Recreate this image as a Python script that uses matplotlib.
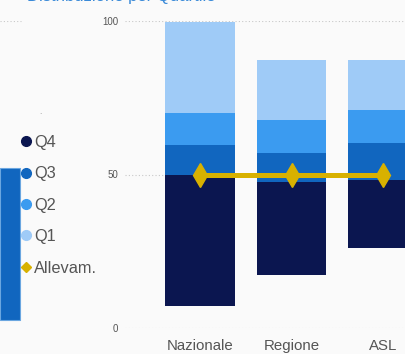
import matplotlib
matplotlib.use("Agg")
import matplotlib.pyplot as plt
from matplotlib.lines import Line2D
from matplotlib import font_manager

# ---------------- data ----------------
categories = ["Nazionale", "Regione", "ASL"]
base = [7.2, 17.2, 25.9]          # invisible start of each floating stack
q4 = [42.7, 30.3, 22.2]
q3 = [9.8, 9.6, 12.2]
q2 = [10.4, 10.8, 10.8]
q1 = [29.6, 19.3, 16.1]
allevam = [50, 50, 50]
yticks = [0, 50, 100]
legend_labels = ["Q4", "Q3", "Q2", "Q1", "Allevam."]
left_bar_bottom = [2.6]
left_bar_height = [49.5]

# ---------------- style ----------------
names = {f.name for f in font_manager.fontManager.ttflist}
narrow = "Liberation Sans Narrow" if "Liberation Sans Narrow" in names else "Liberation Sans"
plt.rcParams["font.family"] = [narrow, "DejaVu Sans"]

c_q4, c_q3, c_q2, c_q1 = "#0b1650", "#1166bf", "#3b9bf0", "#9fcbf7"
c_all = "#d8b100"
bg = "#fafafa"
txt = "#555555"

W, H = 405, 354
fig = plt.figure(figsize=(W / 100, H / 100), dpi=100, facecolor=bg)

def px_axes(x0, y0, x1, y1):
    return fig.add_axes([x0 / W, 1 - y1 / H, (x1 - x0) / W, (y1 - y0) / H])

# ---------------- main chart ----------------
ax = px_axes(125, 21, 405, 328)
ax.set_facecolor("none")
ax.set_ylim(0, 100)
ax.set_xlim(-0.82, 2.24)
x = list(range(len(categories)))
w = 0.755
bottom = list(base)
for vals, col in [(q4, c_q4), (q3, c_q3), (q2, c_q2), (q1, c_q1)]:
    ax.bar(x, vals, width=w, bottom=bottom, color=col, zorder=2)
    bottom = [b + v for b, v in zip(bottom, vals)]
ax.plot(x, allevam, color=c_all, lw=3.6, marker="d", ms=12,
        mec=c_all, mfc=c_all, zorder=4, solid_capstyle="butt")

ax.set_yticks(yticks)
ax.set_yticklabels([str(t) for t in yticks], fontsize=7, color=txt)
ax.set_xticks(x)
ax.set_xticklabels(categories, fontsize=10.8, color=txt)
ax.tick_params(axis="y", length=0, pad=5)
ax.tick_params(axis="x", length=0, pad=8)
ax.grid(axis="y", linestyle=(0, (1, 2)), color="#c8c8c8", lw=0.8, zorder=0)
ax.grid(axis="x", visible=False)
for s in ax.spines.values():
    s.set_visible(False)

# ---------------- partial chart on the left ----------------
axl = px_axes(0, 21, 30, 328)
axl.set_facecolor("none")
axl.set_ylim(0, 100)
axl.set_xlim(0, 1.5)
axl.bar([0], left_bar_height, bottom=left_bar_bottom, width=1.0, align="edge",
        color="#1166bf", edgecolor="#6aa6e0", lw=0.8)
axl.axhline(100, xmax=0.7, linestyle=(0, (1, 2)), color="#c8c8c8", lw=0.8)
axl.axis("off")

# ---------------- legend ----------------
handles = [Line2D([], [], ls="", marker="o", ms=7, color=c) for c in (c_q4, c_q3, c_q2, c_q1)]
handles.append(Line2D([], [], ls="", marker="D", ms=5.5, color=c_all))
leg = fig.legend(handles, legend_labels, loc="upper left",
                 bbox_to_anchor=(21 / W, 1 - 135 / H), frameon=False,
                 fontsize=11.8, labelcolor=txt, handlelength=0.6,
                 handletextpad=0.2, labelspacing=1.0, borderaxespad=0,
                 borderpad=0)

# ---------------- cut-off title & small artefact ----------------
fig.text(27 / W, 1 - 1 / H, "Distribuzione per Quartile", color="#3a8ad8",
         fontsize=12, va="baseline", ha="left")
fig.text(40 / W, 1 - 113 / H, ".", color="#888888", fontsize=6, ha="center", va="center")

fig.savefig("out.png", dpi=100, facecolor=bg)
